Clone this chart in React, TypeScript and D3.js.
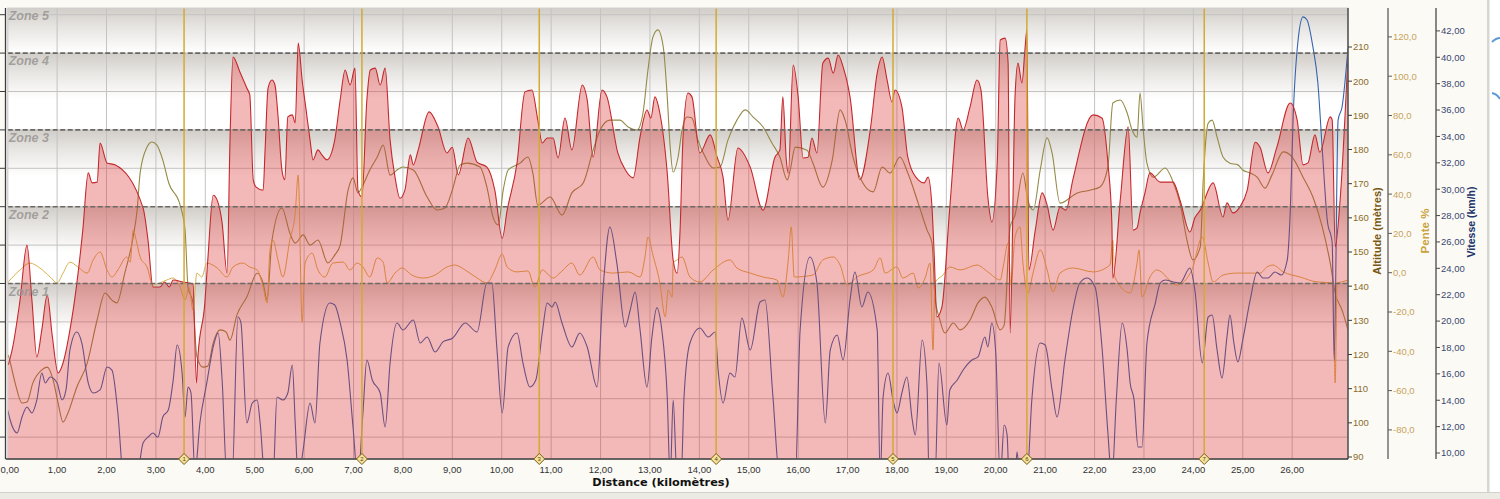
import React from 'react';
import * as d3 from 'd3';

type P = [number, number];

// ---- tick / category data ----
const distanceTicks = d3.range(0, 27, 1);
const altitudeTicks = d3.range(90, 211, 10);
const slopeTicks = d3.range(-80, 121, 20);
const speedTicks = d3.range(10, 43, 2);
const hrGridTicks = d3.range(100, 211, 10);
const zoneNames = ['Zone 1', 'Zone 2', 'Zone 3', 'Zone 4', 'Zone 5'];
const zoneFloors = [null, 140, 160, 180, 200];
const lapKm = [3.57, 7.17, 10.76, 14.34, 17.92, 20.63, 24.22];
const lapLabels = ['1', '2', '3', '4', '5', '6', '7'];

// ---- series: [km, value] ----
const heartRate: P[] = [[0.01,118.8],[0.09,122.7],[0.25,135.7],[0.39,150.0],[0.49,135.7],[0.59,120.9],[0.69,127.9],[0.80,137.0],[0.90,126.6],[1.02,116.7],[1.12,119.3],[1.26,127.9],[1.40,140.1],[1.52,153.9],[1.63,168.8],[1.71,166.2],[1.81,166.4],[1.87,176.6],[2.01,171.4],[2.17,170.9],[2.74,159.7],[2.84,151.3],[2.94,139.1],[3.08,139.1],[3.18,140.4],[3.27,139.1],[3.35,140.9],[3.55,140.4],[3.75,139.9],[3.82,114.1],[3.85,120.9],[3.99,134.9],[4.05,146.1],[4.16,163.0],[4.24,161.7],[4.34,155.8],[4.44,142.7],[4.50,177.4],[4.56,199.0],[4.70,195.1],[4.84,190.9],[4.90,189.1],[4.97,167.0],[5.03,165.1],[5.17,164.3],[5.21,174.8],[5.27,190.9],[5.35,193.0],[5.41,191.7],[5.47,183.9],[5.55,169.6],[5.61,167.0],[5.67,183.4],[5.76,183.9],[5.82,181.8],[5.88,202.6],[5.96,193.0],[6.04,185.2],[6.12,177.4],[6.18,172.2],[6.28,174.8],[6.36,173.5],[6.46,172.2],[6.62,177.4],[6.73,187.8],[6.83,195.6],[6.93,191.7],[7.03,196.1],[7.09,164.3],[7.17,162.5],[7.27,187.8],[7.34,195.6],[7.44,196.1],[7.54,191.7],[7.64,196.1],[7.74,177.4],[7.84,167.7],[7.94,162.2],[8.04,164.3],[8.15,173.5],[8.21,170.9],[8.31,174.8],[8.53,184.7],[8.71,180.8],[8.89,174.0],[9.00,175.5],[9.12,168.3],[9.32,177.9],[9.50,171.6],[9.70,170.3],[9.86,164.3],[10.01,151.8],[10.11,159.1],[10.31,171.4],[10.47,189.9],[10.61,190.4],[10.73,182.6],[10.82,176.6],[10.92,177.9],[11.04,177.9],[11.14,172.7],[11.28,183.1],[11.42,174.8],[11.63,191.7],[11.73,187.8],[11.85,172.9],[12.03,190.4],[12.13,188.6],[12.35,174.0],[12.50,169.6],[12.66,167.5],[12.80,178.2],[12.94,185.2],[13.02,183.1],[13.10,188.6],[13.20,184.4],[13.35,168.8],[13.47,146.1],[13.55,142.7],[13.61,153.9],[13.67,178.2],[13.77,189.6],[13.85,188.6],[14.01,174.0],[14.22,178.7],[14.36,172.9],[14.48,167.7],[14.58,156.5],[14.78,175.3],[15.03,170.3],[15.29,159.1],[15.53,172.9],[15.63,174.8],[15.69,188.6],[15.76,172.2],[15.80,168.8],[15.90,196.9],[16.00,188.6],[16.10,172.7],[16.20,172.9],[16.28,177.9],[16.38,174.0],[16.50,197.4],[16.61,198.7],[16.71,194.8],[16.81,199.5],[16.91,196.4],[17.05,188.6],[17.25,167.0],[17.46,180.0],[17.60,194.8],[17.70,199.0],[17.80,193.0],[17.90,187.3],[17.96,190.4],[18.10,186.0],[18.22,172.9],[18.43,167.0],[18.55,166.2],[18.63,167.7],[18.71,159.7],[18.75,148.7],[18.81,131.3],[18.91,133.9],[19.07,159.9],[19.24,183.1],[19.34,180.0],[19.48,186.0],[19.62,193.0],[19.70,190.4],[19.84,162.5],[19.92,156.0],[20.03,171.4],[20.09,203.4],[20.19,203.9],[20.25,197.4],[20.29,127.1],[20.39,188.6],[20.45,197.4],[20.53,192.2],[20.59,200.8],[20.63,206.0],[20.67,143.5],[20.80,153.9],[20.94,163.6],[21.04,160.4],[21.16,153.9],[21.30,159.9],[21.42,159.1],[21.56,167.0],[21.97,183.9],[22.15,183.1],[22.27,171.4],[22.35,155.8],[22.37,141.4],[22.52,161.7],[22.68,180.8],[22.78,153.9],[22.86,154.5],[22.92,158.4],[23.02,163.6],[23.12,168.8],[23.33,166.4],[23.59,166.4],[23.73,161.7],[23.93,153.4],[24.03,157.1],[24.14,159.1],[24.40,166.2],[24.60,157.3],[24.68,161.0],[24.80,158.4],[24.94,159.9],[25.09,164.3],[25.25,176.8],[25.35,175.5],[25.51,168.8],[25.69,175.5],[25.96,187.0],[26.10,182.6],[26.22,170.9],[26.32,171.4],[26.46,178.7],[26.56,174.2],[26.77,183.4],[26.81,182.6],[26.87,149.5],[26.97,161.7],[27.13,199.5]];

const altitude: P[] = [[0.01,119.9],[0.05,117.8],[0.15,111.7],[0.29,105.8],[0.39,106.1],[0.51,111.7],[0.69,115.5],[0.80,116.3],[0.92,112.5],[1.02,105.8],[1.12,100.2],[1.22,102.9],[1.40,110.5],[1.61,117.5],[1.81,130.1],[1.97,138.0],[2.11,135.9],[2.21,135.1],[2.37,143.8],[2.54,154.4],[2.62,162.3],[2.68,173.1],[2.82,180.7],[2.92,182.2],[3.02,181.3],[3.14,176.9],[3.26,170.2],[3.49,163.7],[3.59,156.4],[3.65,139.8],[3.75,135.1],[3.83,119.3],[3.95,116.3],[4.05,116.6],[4.16,123.4],[4.30,127.2],[4.42,126.6],[4.50,124.2],[4.64,131.6],[4.84,136.8],[5.05,143.8],[5.17,140.9],[5.25,135.9],[5.35,153.5],[5.55,162.9],[5.71,155.6],[5.82,152.6],[5.98,155.0],[6.12,152.0],[6.28,153.5],[6.48,146.8],[6.62,149.1],[6.73,152.0],[6.89,168.1],[6.99,171.7],[7.09,167.3],[7.19,169.6],[7.33,174.0],[7.48,177.8],[7.60,181.3],[7.74,172.5],[7.88,174.0],[8.00,174.9],[8.21,174.0],[8.49,166.1],[8.69,162.3],[8.85,162.9],[9.00,168.1],[9.16,175.5],[9.30,176.0],[9.56,174.9],[9.70,169.0],[9.83,159.9],[9.93,157.9],[10.03,168.1],[10.13,174.0],[10.37,176.0],[10.53,177.8],[10.63,173.1],[10.73,163.7],[10.98,166.1],[11.22,160.8],[11.42,167.3],[11.65,170.2],[11.85,179.8],[11.99,185.7],[12.19,188.6],[12.39,188.6],[12.56,186.6],[12.74,185.7],[12.86,190.7],[12.96,203.3],[13.06,212.9],[13.16,215.0],[13.27,210.0],[13.35,195.4],[13.41,180.7],[13.47,173.4],[13.57,177.8],[13.65,185.7],[13.75,189.5],[13.85,189.2],[13.97,182.8],[14.12,177.8],[14.28,174.6],[14.42,174.9],[14.58,182.8],[14.76,188.6],[14.93,191.6],[15.09,189.5],[15.29,186.6],[15.47,181.9],[15.63,177.8],[15.78,171.1],[15.84,174.0],[15.94,180.7],[16.18,179.8],[16.30,176.0],[16.50,169.0],[16.69,176.9],[16.85,191.6],[16.95,188.6],[17.11,177.8],[17.31,170.2],[17.52,167.6],[17.70,174.9],[17.86,173.1],[18.06,177.8],[18.22,173.1],[18.43,164.3],[18.61,156.4],[18.71,152.6],[18.77,136.8],[18.87,130.1],[18.97,126.3],[19.14,129.2],[19.28,127.2],[19.48,130.1],[19.64,135.1],[19.78,136.8],[19.92,133.9],[20.09,127.2],[20.17,128.6],[20.29,157.3],[20.39,160.8],[20.55,173.1],[20.65,165.2],[20.76,162.3],[20.90,174.0],[21.04,183.4],[21.14,179.0],[21.30,164.3],[21.65,167.3],[21.91,168.1],[22.11,169.0],[22.27,174.9],[22.37,193.6],[22.52,194.5],[22.66,190.7],[22.76,185.7],[22.86,183.6],[22.92,196.5],[22.98,186.6],[23.06,176.0],[23.19,171.9],[23.43,174.6],[23.59,170.5],[23.73,164.3],[23.87,153.5],[23.99,147.7],[24.14,151.5],[24.20,171.1],[24.30,187.7],[24.38,188.6],[24.48,183.6],[24.60,177.8],[24.74,176.0],[24.90,175.5],[25.00,174.0],[25.15,173.1],[25.29,171.9],[25.45,168.7],[25.59,172.5],[25.82,179.3],[26.00,177.8],[26.22,171.9],[26.42,166.1],[26.61,157.3],[26.77,146.8],[26.87,138.0],[27.01,133.0],[27.13,127.2]];

const slope: P[] = [[0.01,-4.7],[0.25,1.4],[0.45,4.9],[0.65,2.4],[0.86,-2.2],[1.00,-5.2],[1.12,-0.2],[1.26,5.4],[1.42,2.9],[1.61,-0.2],[1.73,6.5],[1.87,10.5],[2.01,1.4],[2.11,-2.2],[2.23,1.4],[2.41,8.0],[2.48,5.4],[2.54,21.7],[2.60,16.6],[2.68,8.0],[2.82,2.9],[2.94,-6.3],[3.08,-5.2],[3.22,-3.7],[3.35,-2.7],[3.49,-7.3],[3.59,-13.9],[3.67,-7.3],[3.75,-19.0],[3.83,-0.2],[3.93,-2.2],[4.03,4.9],[4.24,2.4],[4.44,-2.2],[4.56,2.9],[4.76,4.9],[4.90,2.9],[5.05,1.4],[5.17,-7.3],[5.25,-15.4],[5.31,11.6],[5.37,16.6],[5.47,6.5],[5.57,-2.2],[5.71,16.6],[5.82,30.4],[5.88,49.7],[5.96,-25.2],[6.02,4.9],[6.16,10.0],[6.28,1.4],[6.42,-2.2],[6.58,4.9],[6.79,5.4],[6.93,1.4],[7.07,4.9],[7.19,2.9],[7.33,-2.2],[7.48,7.5],[7.60,5.4],[7.68,-5.2],[7.84,-0.2],[7.98,2.4],[8.18,-1.2],[8.41,-2.7],[8.65,-1.2],[8.89,2.9],[9.05,3.9],[9.26,1.4],[9.50,-2.7],[9.70,-5.2],[9.86,1.4],[10.01,9.5],[10.11,2.9],[10.31,0.4],[10.53,0.9],[10.67,-7.3],[10.82,1.4],[11.04,-2.7],[11.22,0.9],[11.42,4.9],[11.58,-1.2],[11.85,8.0],[11.99,1.4],[12.25,-0.2],[12.56,0.4],[12.80,-2.2],[12.90,8.0],[12.96,18.2],[13.06,9.0],[13.20,-5.2],[13.31,-22.5],[13.37,-8.8],[13.45,-12.4],[13.47,4.9],[13.55,6.5],[13.65,8.0],[13.81,-2.2],[14.01,-4.7],[14.28,1.4],[14.62,6.5],[14.76,2.4],[15.03,-0.2],[15.29,-2.2],[15.57,-3.7],[15.69,-12.4],[15.80,6.5],[15.86,23.3],[15.92,-2.2],[16.30,-1.2],[16.50,6.5],[16.71,8.0],[16.85,3.9],[16.99,-6.3],[17.19,-2.2],[17.52,1.4],[17.66,7.5],[17.76,-0.2],[18.00,2.9],[18.12,-2.7],[18.33,-0.2],[18.43,-7.8],[18.57,-2.7],[18.67,4.9],[18.73,-39.3],[18.77,-5.2],[18.93,-1.2],[19.07,2.9],[19.28,1.4],[19.62,3.9],[19.84,0.4],[20.09,-3.7],[20.15,2.9],[20.25,15.1],[20.31,-6.3],[20.39,18.2],[20.49,23.3],[20.55,4.9],[20.65,-10.3],[20.76,0.4],[20.90,11.6],[21.04,1.4],[21.16,-9.8],[21.30,-0.2],[21.56,2.4],[21.97,0.4],[22.31,3.9],[22.37,16.6],[22.41,-2.2],[22.72,-10.3],[22.86,4.9],[22.90,11.6],[22.96,-12.4],[23.12,-2.2],[23.26,1.4],[23.67,-6.3],[23.97,1.4],[24.18,18.2],[24.30,4.9],[24.40,-4.7],[24.60,-1.2],[24.88,-0.2],[25.35,-0.2],[25.49,2.9],[25.61,3.9],[25.82,0.4],[26.16,-2.2],[26.50,-4.7],[26.83,-5.2],[26.87,-56.1],[26.91,-5.2],[27.01,-4.7],[27.13,-3.7]];

const speed: P[] = [[0.00,13.26],[0.05,12.50],[0.19,11.52],[0.29,12.73],[0.39,13.49],[0.49,13.03],[0.59,14.02],[0.69,16.07],[0.76,15.31],[0.86,15.76],[1.00,15.31],[1.10,14.02],[1.18,14.78],[1.26,17.81],[1.40,19.17],[1.50,18.34],[1.63,15.31],[1.73,14.55],[1.87,14.78],[2.01,16.52],[2.11,16.29],[2.23,13.03],[2.34,8.0],[2.54,6.0],[2.74,10.76],[2.84,11.2],[2.94,11.52],[3.04,11.2],[3.14,12.73],[3.25,13.26],[3.35,15.53],[3.43,18.19],[3.53,16.07],[3.59,12.73],[3.65,15.00],[3.71,14.55],[3.79,8.5],[3.89,12.27],[4.03,15.31],[4.16,18.04],[4.26,19.10],[4.34,15.53],[4.44,8.0],[4.54,8.0],[4.66,20.31],[4.72,19.9],[4.84,12.27],[4.95,13.79],[5.05,14.02],[5.11,12.27],[5.21,8.0],[5.37,8.0],[5.45,14.25],[5.57,14.02],[5.67,14.55],[5.76,16.67],[5.82,12.27],[5.88,8.0],[5.98,10.23],[6.12,13.79],[6.22,12.27],[6.32,18.34],[6.52,21.37],[6.62,21.22],[6.73,19.86],[6.87,17.05],[6.99,11.97],[7.09,8.0],[7.19,13.03],[7.27,17.05],[7.38,15.53],[7.54,14.55],[7.64,11.97],[7.74,16.82],[7.88,19.86],[8.00,19.33],[8.21,20.08],[8.35,18.34],[8.49,18.79],[8.65,17.66],[8.81,18.42],[9.01,18.72],[9.26,19.86],[9.50,19.17],[9.70,22.89],[9.80,22.89],[9.90,18.04],[10.01,13.03],[10.13,18.04],[10.31,19.10],[10.43,16.82],[10.57,15.00],[10.69,15.53],[10.82,19.10],[10.92,21.37],[11.02,21.07],[11.08,21.45],[11.22,19.86],[11.42,18.04],[11.58,19.10],[11.73,18.04],[11.93,15.00],[12.05,22.36],[12.19,27.13],[12.33,24.40],[12.50,19.55],[12.60,20.84],[12.70,22.21],[12.80,19.33],[12.94,15.00],[13.04,18.79],[13.14,21.00],[13.24,19.33],[13.35,14.25],[13.41,8.0],[13.47,14.02],[13.55,8.0],[13.63,8.0],[13.69,14.25],[13.81,18.34],[14.01,19.48],[14.18,18.79],[14.32,19.17],[14.38,16.29],[14.48,13.79],[14.62,16.07],[14.72,15.76],[14.86,20.24],[15.03,17.81],[15.23,21.45],[15.33,21.60],[15.49,14.25],[15.63,8.0],[15.94,8.0],[16.04,19.33],[16.24,24.86],[16.38,22.89],[16.55,12.27],[16.65,17.81],[16.79,18.95],[16.91,17.05],[17.05,21.60],[17.15,23.72],[17.29,21.07],[17.41,22.21],[17.60,19.33],[17.66,8.0],[17.72,14.25],[17.82,16.07],[17.92,14.02],[18.00,13.03],[18.10,14.55],[18.20,15.76],[18.31,12.50],[18.37,11.36],[18.51,18.57],[18.61,15.00],[18.65,8.0],[18.77,8.0],[18.85,16.82],[19.01,12.12],[19.07,14.78],[19.22,15.53],[19.34,16.29],[19.52,17.05],[19.64,17.28],[19.78,18.79],[19.84,18.04],[19.92,19.86],[20.00,17.58],[20.09,8.0],[20.17,12.12],[20.23,11.36],[20.27,8.0],[20.39,8.0],[20.43,10.1],[20.49,8.0],[20.63,8.0],[20.73,14.02],[20.90,18.34],[21.00,18.19],[21.14,14.78],[21.24,12.73],[21.40,17.05],[21.56,20.84],[21.70,22.89],[21.85,23.27],[22.01,22.59],[22.15,18.04],[22.27,11.52],[22.35,8.0],[22.44,14.02],[22.56,19.86],[22.66,17.81],[22.72,15.31],[22.80,14.02],[22.88,10.45],[22.96,10.45],[23.06,18.34],[23.23,21.37],[23.33,22.89],[23.43,23.12],[23.59,22.97],[23.73,22.89],[23.93,24.03],[24.03,22.36],[24.18,16.82],[24.30,20.31],[24.38,20.46],[24.48,17.81],[24.58,15.69],[24.68,18.79],[24.74,20.46],[24.82,18.34],[24.90,16.90],[25.00,18.57],[25.15,21.60],[25.29,23.72],[25.41,23.27],[25.51,23.27],[25.65,23.72],[25.78,23.5],[25.90,24.63],[25.96,28.20],[26.02,35.47],[26.12,41.31],[26.22,43.06],[26.30,42.83],[26.42,40.78],[26.52,38.05],[26.61,32.97],[26.71,27.66],[26.81,25.92],[26.85,17.05],[26.93,35.25],[27.01,36.23],[27.13,40.7]];

const FONT = '"Liberation Sans", Arial, sans-serif';
const WIDE = '"DejaVu Sans", Verdana, sans-serif';
const comma = (v: number, d: number) => v.toFixed(d).replace('.', ',');

export default function App() {
  const top = 8, bottom = 459;
  const x = d3.scaleLinear().domain([0, 27.13]).range([7.7, 1348]);
  const yHR = d3.scaleLinear().domain([100, 200]).range([437.1, 53.1]);
  const yAlt = d3.scaleLinear().domain([90, 210]).range([457, 47]);
  const ySlope = d3.scaleLinear().domain([-80, 120]).range([429.9, 36.9]);
  const ySpeed = d3.scaleLinear().domain([10, 42]).range([453, 30.9]);
  const [left, right] = x.range();
  const curve = d3.curveMonotoneX;

  const hrArea = d3.area<P>().x(d => x(d[0])).y0(bottom).y1(d => yHR(d[1])).curve(curve);
  const hrLine = d3.line<P>().x(d => x(d[0])).y(d => yHR(d[1])).curve(curve);
  const altLine = d3.line<P>().x(d => x(d[0])).y(d => yAlt(d[1])).curve(curve);
  const slopeLine = d3.line<P>().x(d => x(d[0])).y(d => ySlope(d[1])).curve(curve);
  const speedLine = d3.line<P>().x(d => x(d[0])).y(d => ySpeed(d[1])).curve(curve);

  const bands = zoneNames.map((name, i) => {
    const y1 = i === 0 ? bottom : yHR(zoneFloors[i] as number);
    const y0 = i === zoneNames.length - 1 ? top : yHR(zoneFloors[i + 1] as number);
    return { name, y0, y1, h: y1 - y0 };
  });

  const axAlt = 1348, axSlope = 1388, axSpeed = 1436;

  return (
    <div style={{ position: 'fixed', left: 0, top: 0, width: 1500, height: 499, overflow: 'hidden' }}>
      <svg width={1500} height={499} style={{ display: 'block' }} fontFamily={FONT}>
        <defs>
          <clipPath id="plot"><rect x={left} y={top} width={right - left} height={bottom - top} /></clipPath>
          {bands.map((b, i) => (
            <linearGradient key={i} id={`band${i}`} x1="0" y1="0" x2="0" y2="1">
              <stop offset="0" stopColor="#d1cdc8" />
              <stop offset={Math.min(1, 20 / b.h)} stopColor="#e8e6e3" />
              <stop offset={Math.min(1, 46 / b.h)} stopColor="#ffffff" />
              <stop offset="1" stopColor="#ffffff" />
            </linearGradient>
          ))}
        </defs>

        <rect x={0} y={0} width={1500} height={499} fill="#fbfaf5" />
        <rect x={1488} y={0} width={12} height={499} fill="#ffffff" />
        <rect x={1487} y={0} width={2.5} height={499} fill="#d6d6d3" />
        <rect x={0} y={493} width={1500} height={6} fill="#ebeae3" />
        <line x1={0} x2={1500} y1={492.5} y2={492.5} stroke="#d2d1cb" />
        <path d="M1492,42 Q1496,38 1500,38" fill="none" stroke="#5b9ad8" strokeWidth={2} />
        <path d="M1492,93 Q1497,94 1500,99" fill="none" stroke="#5b9ad8" strokeWidth={2} />

        <g clipPath="url(#plot)">
          {bands.map((b, i) => (
            <rect key={i} x={left} y={b.y0} width={right - left} height={b.h} fill={`url(#band${i})`} />
          ))}
          {distanceTicks.map(t => (
            <line key={t} x1={x(t)} x2={x(t)} y1={top} y2={bottom} stroke="#c3c3c3" strokeWidth={1} />
          ))}
          {hrGridTicks.map(t => (
            <line key={t} x1={left} x2={right} y1={yHR(t)} y2={yHR(t)} stroke="#c3c3c3" strokeWidth={1} />
          ))}
          <path d={altLine(altitude) || ''} fill="none" stroke="#938a46" strokeWidth={1.1} />
          <path d={slopeLine(slope) || ''} fill="none" stroke="#d8b04a" strokeWidth={1} />
          <path d={speedLine(speed) || ''} fill="none" stroke="#3464ac" strokeWidth={1.1} />
          <path d={hrArea(heartRate) || ''} fill="rgb(220,40,40)" fillOpacity={0.33} />
          <path d={hrLine(heartRate) || ''} fill="none" stroke="#c4282c" strokeWidth={1.1} />
          {bands.slice(1).map((b, i) => (
            <line key={i} x1={left} x2={right} y1={b.y1} y2={b.y1} stroke="#6c6864" strokeWidth={1.6} strokeDasharray="5 2.5" />
          ))}
          {lapKm.map((k, i) => (
            <line key={i} x1={x(k)} x2={x(k)} y1={top} y2={bottom} stroke="#d2aa34" strokeWidth={1.5} />
          ))}
          {bands.map((b, i) => (
            <text key={i} x={left + 1} y={b.y0 + 12} fontSize={12.5} fontWeight="bold" fontStyle="italic" fill="#9a9896" fillOpacity={0.9}>{b.name}</text>
          ))}
        </g>
        <rect x={left} y={top} width={right - left} height={bottom - top} fill="none" stroke="#cfcfcf" strokeWidth={1} />

        {/* left (heart-rate) axis, unlabeled */}
        <line x1={5.5} x2={5.5} y1={top} y2={bottom} stroke="#3c3c3c" strokeWidth={1.3} />
        {hrGridTicks.map(t => (
          <line key={t} x1={0} x2={5.5} y1={yHR(t)} y2={yHR(t)} stroke="#3c3c3c" strokeWidth={1} />
        ))}

        {/* bottom axis */}
        <line x1={left - 2} x2={right} y1={bottom} y2={bottom} stroke="#3c3c3c" strokeWidth={1.5} />
        {distanceTicks.map(t => (
          <text key={t} x={t === 0 ? 0.5 : x(t)} y={472.5} fontSize={9.5} textAnchor={t === 0 ? 'start' : 'middle'} fill="#333">{comma(t, 2)}</text>
        ))}
        <text x={661} y={486} fontSize={11.3} fontWeight="bold" fontFamily={WIDE} textAnchor="middle" fill="#111">Distance (kilomètres)</text>

        {/* lap markers */}
        {lapKm.map((k, i) => (
          <g key={i} transform={`translate(${x(k)},${bottom})`}>
            <path d="M0,-5.5L5.5,0L0,5.5L-5.5,0Z" fill="#f3e29a" stroke="#7a5a18" strokeWidth={1} />
            <text y={2.2} fontSize={6} textAnchor="middle" fill="#5a4010">{lapLabels[i]}</text>
          </g>
        ))}

        {/* altitude axis */}
        <line x1={axAlt} x2={axAlt} y1={top} y2={bottom} stroke="#3a3a3a" strokeWidth={1.3} />
        {altitudeTicks.map(t => (
          <g key={t}>
            <line x1={axAlt} x2={axAlt + 4} y1={yAlt(t)} y2={yAlt(t)} stroke="#3a3a3a" />
            <text x={axAlt + 5} y={yAlt(t) + 3.4} fontSize={9.5} fill="#8c6c2a">{t}</text>
          </g>
        ))}
        <text transform={`translate(1381,231) rotate(-90)`} fontSize={11} fontWeight="bold" textAnchor="middle" fill="#7a5814">Altitude (mètres)</text>

        {/* slope axis */}
        <line x1={axSlope} x2={axSlope} y1={top} y2={bottom} stroke="#5c5c5c" strokeWidth={1.3} />
        {slopeTicks.map(t => (
          <g key={t}>
            <line x1={axSlope} x2={axSlope + 4} y1={ySlope(t)} y2={ySlope(t)} stroke="#5c5c5c" />
            <text x={axSlope + 5} y={ySlope(t) + 3.4} fontSize={9.5} fill="#c8a35c">{comma(t, 1)}</text>
          </g>
        ))}
        <text transform={`translate(1429,231) rotate(-90)`} fontSize={11.5} fontWeight="bold" textAnchor="middle" fill="#c9a23c">Pente %</text>

        {/* speed axis */}
        <line x1={axSpeed} x2={axSpeed} y1={top} y2={bottom} stroke="#4a4a4a" strokeWidth={1.3} />
        {speedTicks.map(t => (
          <g key={t}>
            <line x1={axSpeed} x2={axSpeed + 4} y1={ySpeed(t)} y2={ySpeed(t)} stroke="#4a4a4a" />
            <text x={axSpeed + 5} y={ySpeed(t) + 3.4} fontSize={9.5} fill="#3a4872">{comma(t, 2)}</text>
          </g>
        ))}
        <text transform={`translate(1475,222) rotate(-90)`} fontSize={10.5} fontWeight="bold" textAnchor="middle" fill="#22346a">Vitesse (km/h)</text>
      </svg>
    </div>
  );
}
